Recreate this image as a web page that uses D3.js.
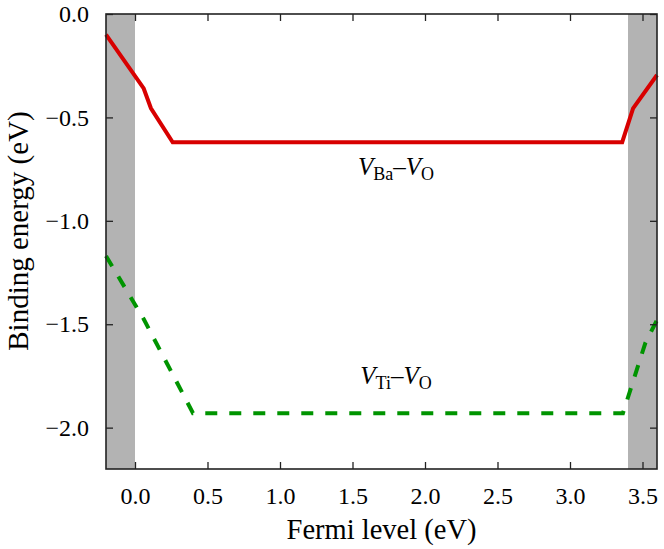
<!DOCTYPE html>
<html>
<head>
<meta charset="utf-8">
<script src="https://cdn.jsdelivr.net/npm/d3@7"></script>
<style>
  body { margin: 0; background: #fff; }
</style>
</head>
<body>
<div id="chart"></div>
<script>
// x = Fermi level (eV), y = binding energy (eV)
var vBaX = [-0.2, 0.06, 0.11, 0.26, 3.36, 3.435, 3.6];
var vBaY = [-0.10, -0.36, -0.456, -0.62, -0.62, -0.456, -0.295];

var vTiX = [-0.2, 0.06, 0.40, 3.365, 3.52, 3.6];
var vTiY = [-1.17, -1.475, -1.93, -1.93, -1.59, -1.48];

// shaded regions outside the gap
var shadeFrom = [-0.2, 3.4];
var shadeTo = [0.0, 3.6];

var xTicks = [0.0, 0.5, 1.0, 1.5, 2.0, 2.5, 3.0, 3.5];
var yTicks = [0.0, -0.5, -1.0, -1.5, -2.0];

var serif = "'Liberation Serif', 'Times New Roman', Times, serif";

var width = 664, height = 549;
var margin = {top: 14, right: 7, bottom: 80, left: 106};

var svg = d3.select("#chart").append("svg")
    .attr("width", width)
    .attr("height", height)
    .attr("font-family", serif);

var x = d3.scaleLinear()
    .domain([-0.2, 3.6])
    .range([margin.left, width - margin.right]);

var y = d3.scaleLinear()
    .domain([-2.2, 0])
    .range([height - margin.bottom, margin.top]);

// grey bands
svg.selectAll(".shade")
    .data(shadeFrom)
  .enter().append("rect")
    .attr("class", "shade")
    .attr("x", function(d) { return x(d); })
    .attr("y", y(0))
    .attr("width", function(d, i) { return x(shadeTo[i]) - x(d); })
    .attr("height", y(-2.2) - y(0))
    .style("fill", "#b3b3b3");

var line = d3.line()
    .x(function(d) { return x(d[0]); })
    .y(function(d) { return y(d[1]); });

svg.append("path")
    .datum(d3.zip(vBaX, vBaY))
    .attr("d", line)
    .style("fill", "none")
    .style("stroke", "#d80000")
    .style("stroke-width", 4);

svg.append("path")
    .datum(d3.zip(vTiX, vTiY))
    .attr("d", line)
    .style("fill", "none")
    .style("stroke", "#009400")
    .style("stroke-width", 4)
    .style("stroke-dasharray", "12,12");

// axes, ticks inward on all four sides
var tickLen = 7;
function styleAxis(g) {
  g.attr("font-family", serif);
  g.select(".domain").remove();
  g.selectAll(".tick line").style("stroke", "#222").style("stroke-width", 1.3);
  g.selectAll(".tick text")
      .style("font-family", serif)
      .style("font-size", "24px")
      .style("fill", "#000");
}

svg.append("g")
    .attr("transform", "translate(0," + y(-2.2) + ")")
    .call(d3.axisBottom(x).tickValues(xTicks).tickFormat(d3.format(".1f"))
      .tickSizeInner(-tickLen).tickSizeOuter(0).tickPadding(18))
    .call(styleAxis);

svg.append("g")
    .attr("transform", "translate(0," + y(0) + ")")
    .call(d3.axisTop(x).tickValues(xTicks).tickFormat("")
      .tickSizeInner(-tickLen).tickSizeOuter(0))
    .call(styleAxis);

svg.append("g")
    .attr("transform", "translate(" + x(-0.2) + ",0)")
    .call(d3.axisLeft(y).tickValues(yTicks)
      .tickFormat(function(d) { return d3.format(".1f")(d).replace("-", "\u2212"); })
      .tickSizeInner(-tickLen).tickSizeOuter(0).tickPadding(17))
    .call(styleAxis);

svg.append("g")
    .attr("transform", "translate(" + x(3.6) + ",0)")
    .call(d3.axisRight(y).tickValues(yTicks).tickFormat("")
      .tickSizeInner(-tickLen).tickSizeOuter(0))
    .call(styleAxis);

// frame
svg.append("rect")
    .attr("x", x(-0.2))
    .attr("y", y(0))
    .attr("width", x(3.6) - x(-0.2))
    .attr("height", y(-2.2) - y(0))
    .style("fill", "none")
    .style("stroke", "#222")
    .style("stroke-width", 1.6);

// axis titles
svg.append("text")
    .attr("x", (x(-0.2) + x(3.6)) / 2)
    .attr("y", 539)
    .attr("text-anchor", "middle")
    .style("font-family", serif)
    .style("font-size", "28.5px")
    .style("fill", "#000")
    .text("Fermi level (eV)");

svg.append("text")
    .attr("transform", "translate(28," + 231 + ") rotate(-90)")
    .attr("text-anchor", "middle")
    .style("font-family", serif)
    .style("font-size", "29px")
    .style("fill", "#000")
    .text("Binding energy (eV)");

// curve labels
function defectLabel(cx, cy, sub1, sub2) {
  var t = svg.append("text")
      .attr("x", cx)
      .attr("y", cy)
      .attr("text-anchor", "middle")
      .style("font-family", serif)
      .style("font-size", "25px")
      .style("fill", "#000");
  t.append("tspan").style("font-style", "italic").text("V");
  t.append("tspan").attr("dy", 5).style("font-size", "18px").text(sub1);
  t.append("tspan").attr("dy", -5).text("\u2013");
  t.append("tspan").style("font-style", "italic").text("V");
  t.append("tspan").attr("dy", 5).style("font-size", "18px").text(sub2);
}

defectLabel(396, 175, "Ba", "O");
defectLabel(396, 384, "Ti", "O");
</script>
</body>
</html>
